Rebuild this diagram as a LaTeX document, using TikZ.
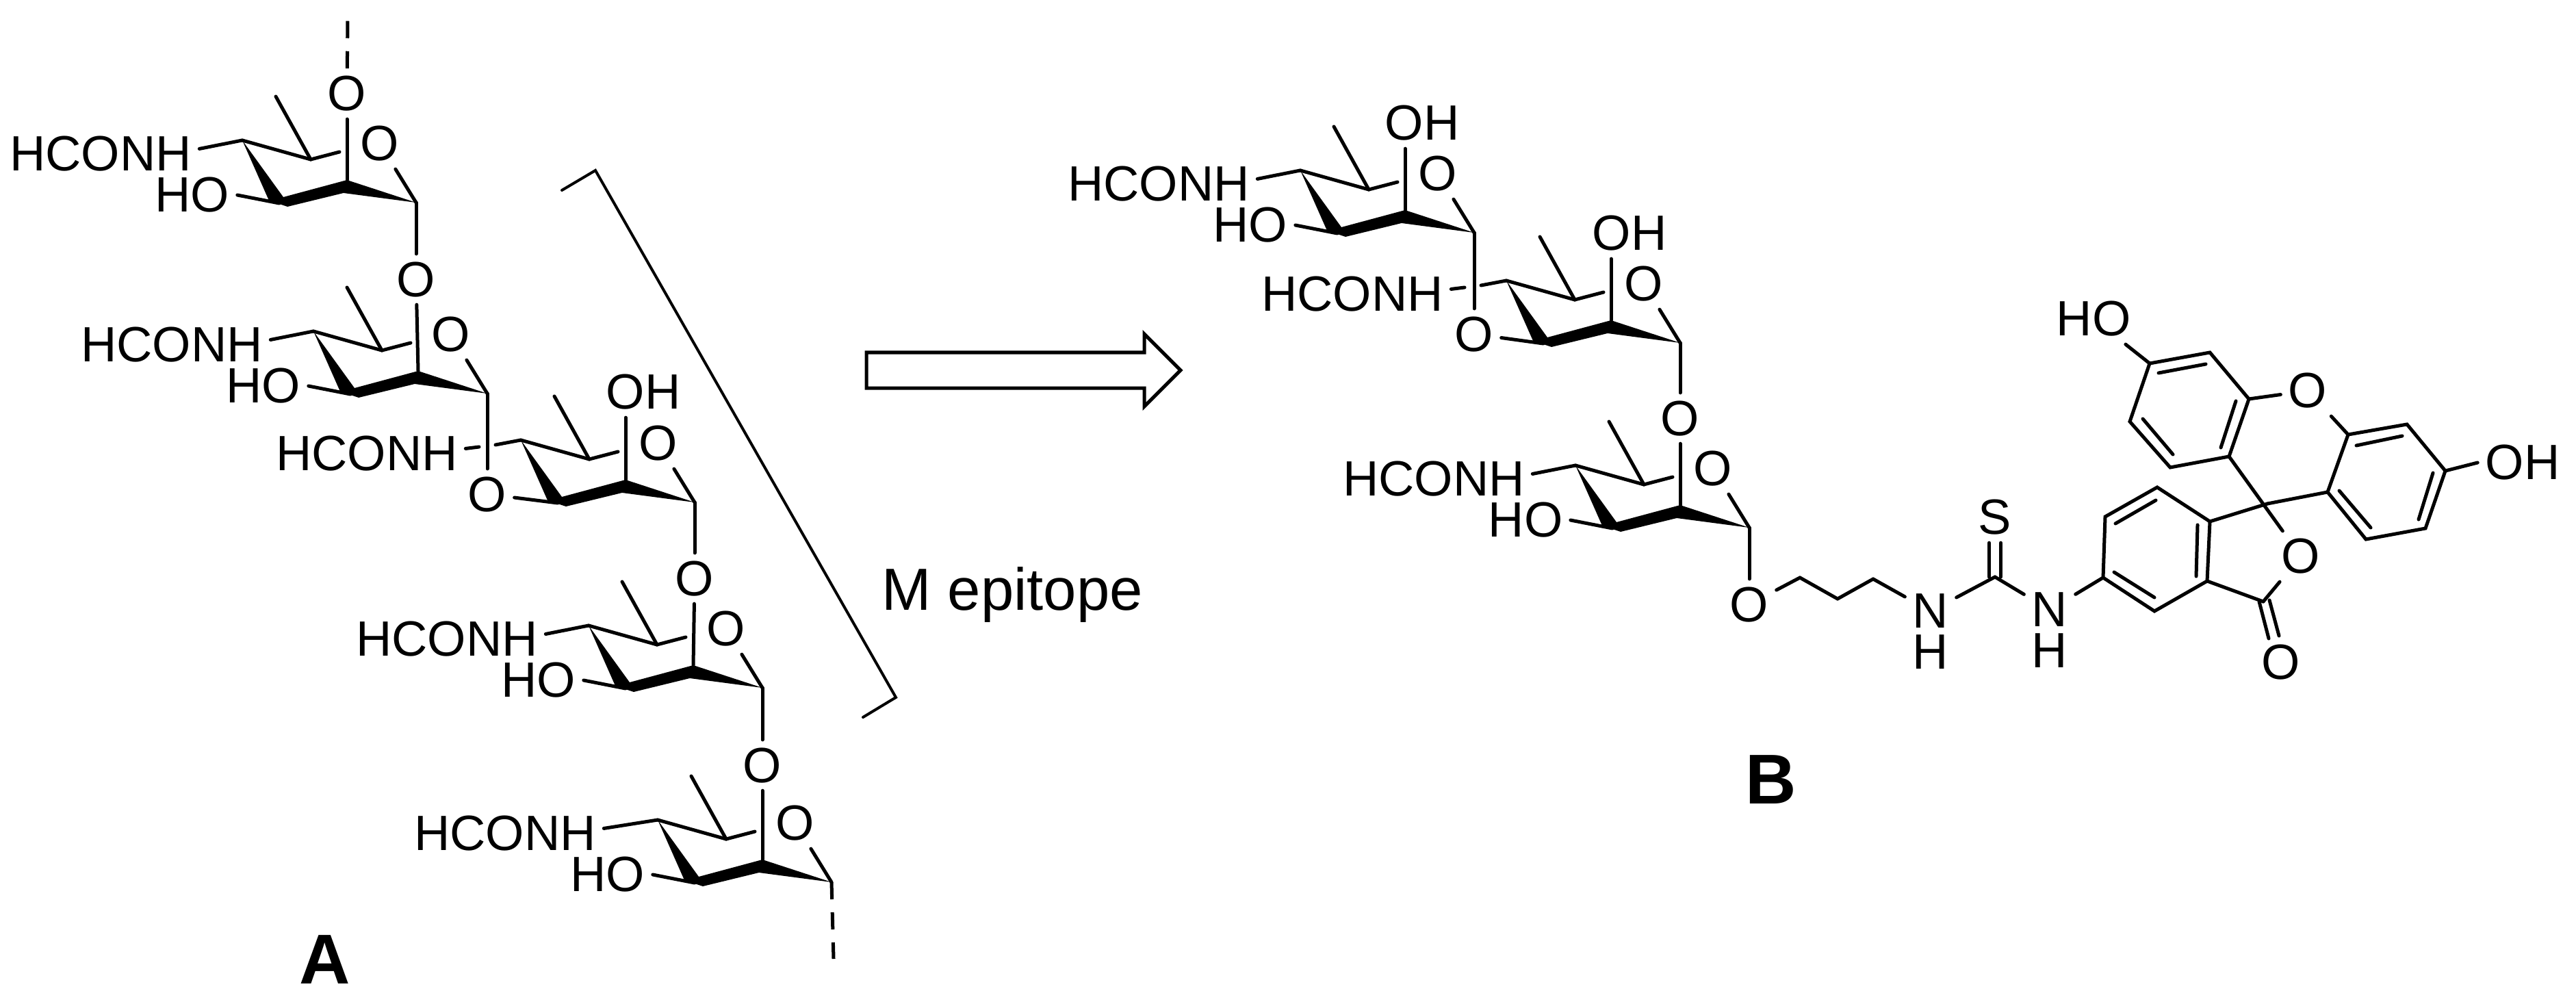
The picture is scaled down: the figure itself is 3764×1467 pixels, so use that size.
\documentclass[tikz,border=0pt]{standalone}
\usepackage{fontspec}
\setmainfont{Liberation Sans}
\usetikzlibrary{calc}

% one sugar ring, #1 = name, (#2,#3) = carbon that carries the NH
\newcommand{\sugar}[3]{
\begin{scope}[shift={(#2,#3)}]
\coordinate (#1a) at (0,0);
\coordinate (#1b) at (100,28);
\coordinate (#1br) at (142,17);
\coordinate (#1me) at (49,-64);
\coordinate (#1hb) at (54,92);
\coordinate (#1d) at (153,58);
\coordinate (#1e) at (254,91);
\coordinate (#1g) at (-37,7);
\coordinate (#1h) at (-61,10);
\node[atom] (#1ro) at (201,5) {O};
\fill (#1a) -- (39,88) -- (66,97) -- (148,77) -- (#1e) -- (#1d) -- (60,83) -- cycle;
\path
(#1a) edge (#1b)
(#1b) edge (#1br)
(#1b) edge (#1me)
(#1e) edge (#1ro)
;
\end{scope}
}

% the HCONH and HO on the left of a ring, #2 = how far left the HCONH sits
\newcommand{\sugarleft}[2]{
\node[atom] (#1nh) at ($(#1a)+(-#2,20)$) {HCONH};
\node[atom] (#1ho) at ($(#1a)+(-73,80)$) {HO};
\path
(#1a) edge (#1nh.3)
(#1hb) edge (#1ho.east)
;
}

% the same for a ring whose NH bond passes behind the bond above it
\newcommand{\sugarcross}[1]{
\node[atom] (#1nh) at ($(#1a)+(-225,20)$) {HCONH};
\path
(#1a) edge (#1g)
(#1h) edge (#1nh.3)
;
}

\begin{document}
\begin{tikzpicture}[x=0.01cm,y=-0.01cm,line width=0.05cm,line cap=round,
    node distance=0.6cm,
    atom/.style={font=\fontsize{20.6}{24}\selectfont,inner sep=0.09cm},
    hatom/.style={font=\fontsize{20.6}{24}\selectfont,inner sep=0},
    mark label/.style={font=\fontsize{29.3}{35}\selectfont\bfseries},
    dash bond/.style={dash pattern=on 0.25cm off 0.19cm,line cap=butt}]

\useasboundingbox (0,0) rectangle (3764,1467);

% left chain
\sugar{a1}{354}{205}
\sugar{a2}{458}{484}
\sugar{a3}{761}{643}
\sugar{a4}{860}{914}
\sugar{a5}{961}{1198}
\sugarleft{a1}{207}
\sugarleft{a2}{207}
\sugarcross{a3}
\sugarleft{a4}{207}
\sugarleft{a5}{223}

\node[atom] (o0) [above of=a1d, node distance=1.26cm] {O};
\node[atom] (o1) [below of=a1e, node distance=1.12cm] {O};
\node[atom] (o2) [below of=a2e, node distance=1.47cm] {O};
\node[atom] (o3) [below of=a3e, node distance=1.11cm] {O};
\node[atom] (o4) [below of=a4e, node distance=1.13cm] {O};
\node[atom] (a3oh) at ($(a3a)+(179,-70)$) {OH};
\coordinate (top) at (508,26);
\coordinate (tail) at (1218,1401);

\path
(a1d) edge (o0)
(a1e) edge (o1)
(o1) edge (a2d)
(a2e) edge (o2)
(o2) edge (a3hb)
(a3d) edge (a3d |- a3oh.south)
(a3e) edge (o3)
(o3) edge (a4d)
(a4e) edge (o4)
(o4) edge (a5d)
;
\draw[dash bond] (o0) -- (top);
\draw[dash bond] (a5e) -- (tail);

% bracket
\coordinate (k1) at (821,278);
\coordinate (k2) at (870,249);
\coordinate (k3) at (1309,1019);
\coordinate (k4) at (1261,1048);
\draw[line width=0.04cm] (k1) -- (k2) -- (k3) -- (k4);
\node[font=\fontsize{24.7}{30}\selectfont,anchor=base west,inner sep=0] (mlabel) at (1286,891) {M epitope};
\node[mark label] (alabel) at (475,1402) {A};

% arrow
\draw[line join=miter] (1266,515) -- (1672,515) -- (1672,488) -- (1725,541) -- (1672,594) -- (1672,567) -- (1266,567) -- cycle;

% right chain
\sugar{b1}{1900}{249}
\sugar{b2}{2201}{410}
\sugar{b3}{2302}{680}
\sugarleft{b1}{207}
\sugarcross{b2}
\sugarleft{b3}{207}

\node[atom] (b1oh) at ($(b1a)+(178,-69)$) {OH};
\node[atom] (b2oh) at ($(b2a)+(180,-69)$) {OH};
\node[atom] (p1) [below of=b1e, node distance=1.48cm] {O};
\node[atom] (p2) [below of=b2e, node distance=1.10cm] {O};
\node[atom] (p3) [below of=b3e, node distance=1.12cm] {O};

\path
(b1d) edge (b1d |- b1oh.south)
(b2d) edge (b2d |- b2oh.south)
(b1e) edge (p1)
(p1) edge (b2hb)
(b2e) edge (p2)
(p2) edge (b3d)
(b3e) edge (p3)
;

% linker
\coordinate (l1) at (2630,844);
\coordinate (l2) at (2685,875);
\coordinate (l3) at (2737,846);
\coordinate (cs) at (2915,843);
\node[atom] (n1) at (2821,893) {N};
\node[hatom] (h1) [below of=n1] {H};
\node[atom] (n2) at (2995,891) {N};
\node[hatom] (h2) [below of=n2] {H};
\node[atom] (s) at (2915,756) {S};

\path
(p3) edge (l1)
(l1) edge (l2)
(l2) edge (l3)
(l3) edge (n1)
(n1) edge (cs)
(cs) edge (n2)
([xshift=-0.085cm]cs) edge ([xshift=-0.085cm]s.south)
([xshift=0.085cm]cs) edge ([xshift=0.085cm]s.south)
;

% phthalide ring
\coordinate (r1) at (3073,844);
\coordinate (r2) at (3076,755);
\coordinate (r3) at (3152,712);
\coordinate (r4) at (3229,762);
\coordinate (r5) at (3225,849);
\coordinate (r6) at (3148,893);
\coordinate (spiro) at (3313,736);
\coordinate (co) at (3307,879);
\coordinate (co1) at (3301,879);
\coordinate (co2) at (3315,933);
\coordinate (co3) at (3316,877);
\coordinate (co4) at (3330,929);
\coordinate (i1) at (3091,765);
\coordinate (i2) at (3150,731);
\coordinate (i3) at (3211,767);
\coordinate (i4) at (3209,842);
\coordinate (i5) at (3148,873);
\coordinate (i6) at (3089,836);
\node[atom] (olac) at (3362,813) {O};
\node[atom] (oket) at (3333,968) {O};
\draw (r1) -- (r2) -- (r3) -- (r4) -- (r5) -- (r6) -- cycle;

\path
(n2) edge (r1)
(i1) edge (i2)
(i3) edge (i4)
(i5) edge (i6)
(r4) edge (spiro)
(r5) edge (co)
(co) edge (olac)
(co1) edge (co2)
(co3) edge (co4)
;

% xanthene rings
\coordinate (u1) at (3141,531);
\coordinate (u2) at (3229,515);
\coordinate (u3) at (3286,583);
\coordinate (u4) at (3257,667);
\coordinate (u5) at (3171,683);
\coordinate (u6) at (3112,616);
\coordinate (j1) at (3154,545);
\coordinate (j2) at (3223,532);
\coordinate (j3) at (3267,586);
\coordinate (j4) at (3245,654);
\coordinate (j5) at (3175,664);
\coordinate (j6) at (3131,612);
\coordinate (v1) at (3431,635);
\coordinate (v2) at (3517,620);
\coordinate (v3) at (3573,688);
\coordinate (v4) at (3544,772);
\coordinate (v5) at (3457,788);
\coordinate (v6) at (3401,719);
\coordinate (w1) at (3443,651);
\coordinate (w2) at (3510,637);
\coordinate (w3) at (3555,691);
\coordinate (w4) at (3534,759);
\coordinate (w5) at (3464,771);
\coordinate (w6) at (3418,717);
\node[atom] (oxa) at (3372,571) {O};
\node[atom] (holeft) at (3059,466) {HO};
\node[atom] (ohright) at (3686,676) {OH};
\draw (u1) -- (u2) -- (u3) -- (u4) -- (u5) -- (u6) -- cycle;
\draw (v1) -- (v2) -- (v3) -- (v4) -- (v5) -- (v6) -- cycle;

\path
(j1) edge (j2)
(j3) edge (j4)
(j5) edge (j6)
(w1) edge (w2)
(w3) edge (w4)
(w5) edge (w6)
(u3) edge (oxa)
(oxa) edge (v1)
(u1) edge (holeft)
(v3) edge (ohright.west)
(u4) edge (olac)
(spiro) edge (v6)
;

\node[mark label] (blabel) at (2588,1139) {B};

\end{tikzpicture}
\end{document}
